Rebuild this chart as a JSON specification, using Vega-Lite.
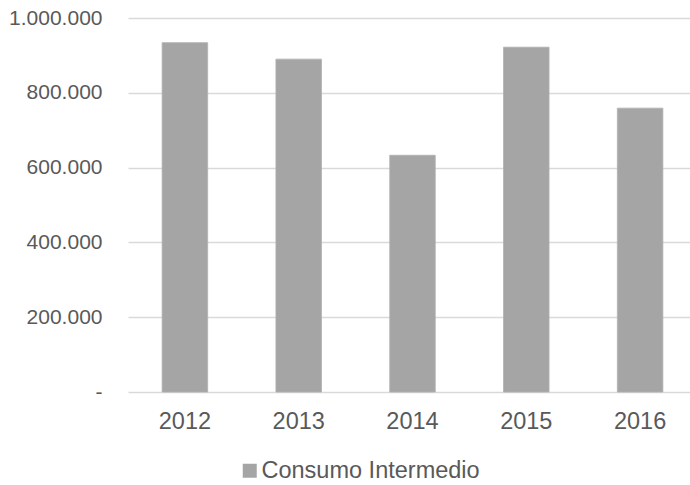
{
  "$schema": "https://vega.github.io/schema/vega-lite/v6.json",
  "autosize": {"type": "none"},
  "padding": {"left": 128, "top": 18, "right": 0, "bottom": 93},
  "width": 562,
  "height": 374,
  "background": "white",
  "config": {
    "locale": {"number": {"decimal": ",", "thousands": ".", "grouping": [3], "currency": ["", ""]}},
    "view": {"stroke": null},
    "font": "Liberation Sans"
  },
  "data": {
    "values": [
      {"year": "2012", "serie": "Consumo Intermedio", "value": 934000},
      {"year": "2013", "serie": "Consumo Intermedio", "value": 890000},
      {"year": "2014", "serie": "Consumo Intermedio", "value": 633000},
      {"year": "2015", "serie": "Consumo Intermedio", "value": 922000},
      {"year": "2016", "serie": "Consumo Intermedio", "value": 759000}
    ]
  },
  "mark": {"type": "bar", "stroke": "#b0b0b0", "strokeWidth": 0.8},
  "encoding": {
    "x": {
      "field": "year",
      "type": "ordinal",
      "scale": {"range": [0, 569], "paddingInner": 0.6, "paddingOuter": 0.3},
      "axis": {
        "title": null,
        "labelAngle": 0,
        "labelFontSize": 23.5,
        "labelColor": "#595959",
        "labelPadding": 17,
        "ticks": false,
        "domain": false
      }
    },
    "y": {
      "field": "value",
      "type": "quantitative",
      "scale": {"domain": [0, 1000000], "nice": false},
      "axis": {
        "title": null,
        "values": [0, 200000, 400000, 600000, 800000, 1000000],
        "format": ",d",
        "labelExpr": "datum.value == 0 ? '-' : datum.label",
        "labelFontSize": 21,
        "labelColor": "#595959",
        "labelPadding": 26,
        "ticks": false,
        "domain": false,
        "grid": true,
        "gridColor": "#d9d9d9",
        "gridWidth": 1.4
      }
    },
    "color": {
      "field": "serie",
      "type": "nominal",
      "scale": {"range": ["#a5a5a5"]},
      "legend": {
        "title": null,
        "orient": "none",
        "legendX": 110,
        "legendY": 441,
        "symbolType": "square",
        "symbolSize": 196,
        "symbolStrokeWidth": 0,
        "labelFontSize": 23.5,
        "labelColor": "#595959",
        "labelOffset": 0,
        "labelLimit": 400
      }
    }
  }
}
